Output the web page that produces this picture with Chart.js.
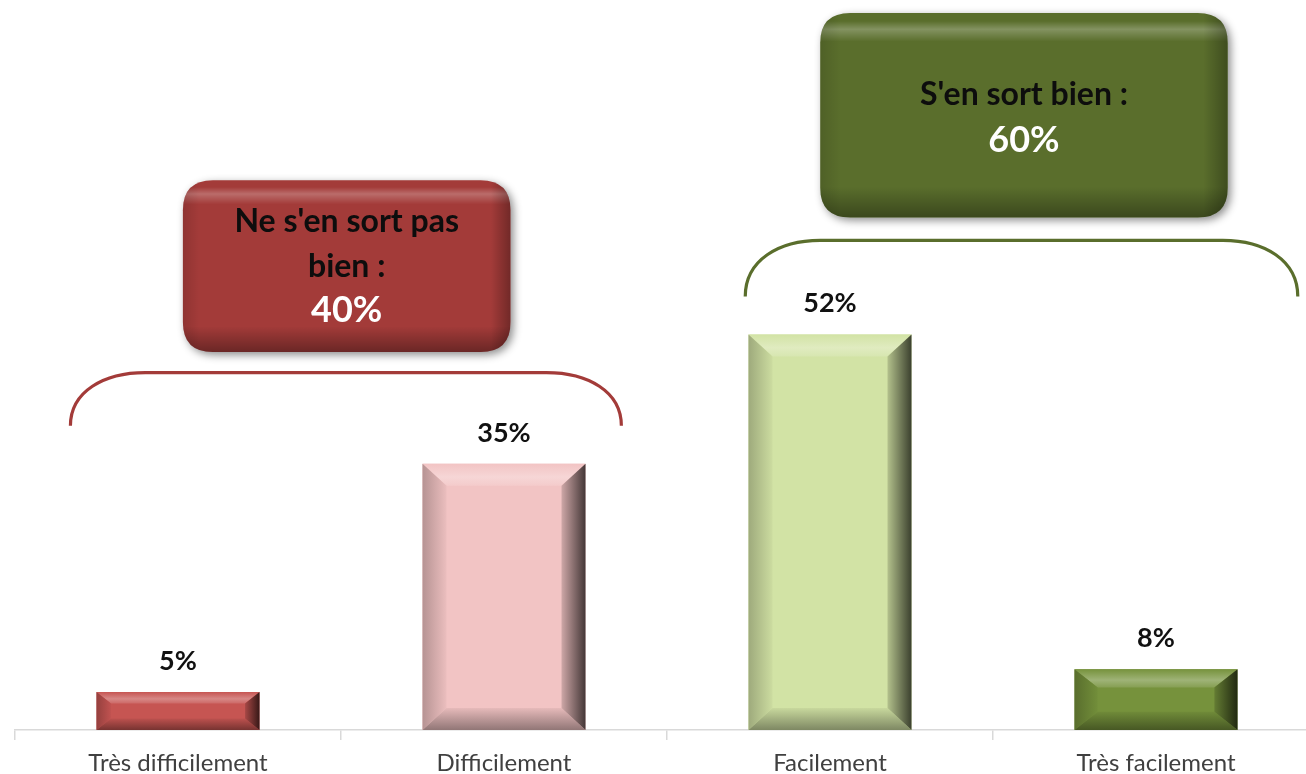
<!DOCTYPE html>
<html><head><meta charset="utf-8">
<script src="https://cdn.jsdelivr.net/npm/chart.js@4/dist/chart.umd.min.js"></script>
<style>
html,body{margin:0;padding:0;background:#fff;overflow:hidden;width:1306px;height:774px;}
canvas{display:block;}
</style></head>
<body>
<canvas id="c" width="1320" height="774" style="width:1320px;height:774px"></canvas>
<script>
const categories = ["Très difficilement", "Difficilement", "Facilement", "Très facilement"];
const values = [5, 35, 52, 8];
const valueLabels = ["5%", "35%", "52%", "8%"];
const barColors = ["#C65552", "#F2C4C4", "#D2E3A5", "#76923C"];

const groupTitles = [["Ne s'en sort pas", "bien :"], ["S'en sort bien :"]];
const groupTotals = ["40%", "60%"];
const groupColors = ["#A33B39", "#5A6E2C"];
const groupFirstCat = [0, 2];
const groupLastCat = [1, 3];

// layout of the decorations (fractions of a category width / y values)
const bracketSpec = [
  {l:-0.33, r:0.36, top:47, end:40},
  {l:-0.26, r:0.435, top:64.4, end:57}
];
const boxSpec = [
  {l:0.015, r:0.02, top:72.3, bottom:49.7, lines:[222,267], total:310},
  {l:-0.03, r:0.22, top:94.3, bottom:67.4, lines:[95], total:140}
];

function shade(hex, amt){
  const n=parseInt(hex.slice(1),16);
  let r=(n>>16)&255,g=(n>>8)&255,b=n&255;
  const f=c=>Math.max(0,Math.min(255,Math.round(amt<0?c*(1+amt):c+(255-c)*amt)));
  return `rgb(${f(r)},${f(g)},${f(b)})`;
}

function roundRect(ctx,x,y,w,h,r){
  ctx.beginPath();
  ctx.moveTo(x+r,y);ctx.lineTo(x+w-r,y);ctx.quadraticCurveTo(x+w,y,x+w,y+r);
  ctx.lineTo(x+w,y+h-r);ctx.quadraticCurveTo(x+w,y+h,x+w-r,y+h);
  ctx.lineTo(x+r,y+h);ctx.quadraticCurveTo(x,y+h,x,y+h-r);
  ctx.lineTo(x,y+r);ctx.quadraticCurveTo(x,y,x+r,y);ctx.closePath();
}

const bevelPlugin = {
  id:'bevel',
  afterDatasetsDraw(chart){
    const ctx=chart.ctx;
    const meta=chart.getDatasetMeta(0);
    meta.data.forEach((bar,i)=>{
      const p=bar.getProps(['x','y','base','width'],true);
      const x0=p.x-p.width/2, x1=p.x+p.width/2, y0=p.y, y1=p.base;
      const h=y1-y0;
      const ix=Math.min(24,h*0.38), iy=Math.min(22,h*0.3);
      const c=barColors[i];
      ctx.save();
      let g=ctx.createLinearGradient(0,y0,0,y0+iy);
      g.addColorStop(0,shade(c,0.0));g.addColorStop(0.6,shade(c,0.3));g.addColorStop(1,shade(c,0.12));
      ctx.fillStyle=g;
      ctx.beginPath();ctx.moveTo(x0,y0);ctx.lineTo(x1,y0);ctx.lineTo(x1-ix,y0+iy);ctx.lineTo(x0+ix,y0+iy);ctx.closePath();ctx.fill();
      g=ctx.createLinearGradient(x0,0,x0+ix,0);
      g.addColorStop(0,shade(c,-0.25));g.addColorStop(1,shade(c,-0.03));
      ctx.fillStyle=g;
      ctx.beginPath();ctx.moveTo(x0,y0);ctx.lineTo(x0+ix,y0+iy);ctx.lineTo(x0+ix,y1-iy);ctx.lineTo(x0,y1);ctx.closePath();ctx.fill();
      g=ctx.createLinearGradient(0,y1-iy,0,y1);
      g.addColorStop(0,shade(c,-0.05));g.addColorStop(1,shade(c,-0.4));
      ctx.fillStyle=g;
      ctx.beginPath();ctx.moveTo(x0,y1);ctx.lineTo(x0+ix,y1-iy);ctx.lineTo(x1-ix,y1-iy);ctx.lineTo(x1,y1);ctx.closePath();ctx.fill();
      g=ctx.createLinearGradient(x1-ix,0,x1,0);
      g.addColorStop(0,shade(c,-0.15));g.addColorStop(1,shade(c,-0.72));
      ctx.fillStyle=g;
      ctx.beginPath();ctx.moveTo(x1,y0);ctx.lineTo(x1-ix,y0+iy);ctx.lineTo(x1-ix,y1-iy);ctx.lineTo(x1,y1);ctx.closePath();ctx.fill();
      ctx.fillStyle='#111111';
      ctx.font='bold 27px Lato, "Open Sans", sans-serif';
      ctx.textAlign='center';ctx.textBaseline='middle';
      ctx.fillText(valueLabels[i],p.x,y0-31);
      ctx.restore();
    });
  }
};

const groupPlugin = {
  id:'groups',
  afterDraw(chart){
    const ctx=chart.ctx, xs=chart.scales.x, ys=chart.scales.y;
    const cw=xs.getPixelForValue(1)-xs.getPixelForValue(0);
    groupTitles.forEach((title,gi)=>{
      const xa=xs.getPixelForValue(groupFirstCat[gi]), xb=xs.getPixelForValue(groupLastCat[gi]);
      const b=bracketSpec[gi];
      const bl=xa+b.l*cw, br=xb+b.r*cw, bt=ys.getPixelForValue(b.top), be=ys.getPixelForValue(b.end);
      const rx=75, ry=be-bt;
      ctx.save();
      ctx.strokeStyle=groupColors[gi];ctx.lineWidth=3.2;ctx.lineCap='butt';
      ctx.beginPath();
      ctx.moveTo(bl,be);
      ctx.bezierCurveTo(bl,bt+ry*0.35,bl+rx*0.45,bt,bl+rx,bt);
      ctx.lineTo(br-rx,bt);
      ctx.bezierCurveTo(br-rx*0.45,bt,br,bt+ry*0.35,br,be);
      ctx.stroke();
      ctx.restore();
      const s=boxSpec[gi];
      const bx0=xa+s.l*cw, bx1=xb+s.r*cw;
      const by0=ys.getPixelForValue(s.top), by1=ys.getPixelForValue(s.bottom);
      const w=bx1-bx0,h=by1-by0,r=30;
      const col=groupColors[gi];
      ctx.save();
      ctx.shadowColor='rgba(0,0,0,0.45)';ctx.shadowBlur=8;ctx.shadowOffsetX=3;ctx.shadowOffsetY=3;
      roundRect(ctx,bx0,by0,w,h,r);ctx.fillStyle=col;ctx.fill();
      ctx.restore();
      ctx.save();
      roundRect(ctx,bx0,by0,w,h,r);ctx.clip();
      let g=ctx.createLinearGradient(0,by0,0,by1);
      g.addColorStop(0,'rgba(255,255,255,0.0)');g.addColorStop(0.04,'rgba(255,255,255,0.0)');
      g.addColorStop(0.08,'rgba(255,255,255,0.25)');g.addColorStop(0.14,'rgba(255,255,255,0.0)');
      g.addColorStop(0.85,'rgba(0,0,0,0)');g.addColorStop(1,'rgba(0,0,0,0.35)');
      ctx.fillStyle=g;ctx.fillRect(bx0,by0,w,h);
      g=ctx.createLinearGradient(bx0,0,bx1,0);
      g.addColorStop(0,'rgba(0,0,0,0.12)');g.addColorStop(0.05,'rgba(0,0,0,0)');
      g.addColorStop(0.94,'rgba(0,0,0,0)');g.addColorStop(1,'rgba(0,0,0,0.3)');
      ctx.fillStyle=g;ctx.fillRect(bx0,by0,w,h);
      ctx.restore();
      ctx.save();
      ctx.textAlign='center';ctx.textBaseline='middle';
      const cx=(bx0+bx1)/2;
      ctx.font='bold 32px Lato, "Open Sans", sans-serif';
      ctx.fillStyle='#0d0d0d';
      title.forEach((t,k)=>ctx.fillText(t,cx,s.lines[k]));
      ctx.font='bold 36px Lato, "Open Sans", sans-serif';
      ctx.fillStyle='#ffffff';
      ctx.fillText(groupTotals[gi],cx,s.total);
      ctx.restore();
    });
  }
};

new Chart(document.getElementById('c'),{
  type:'bar',
  data:{labels:categories,datasets:[{data:values,backgroundColor:barColors,borderWidth:0,
    barPercentage:0.5,categoryPercentage:1}]},
  options:{
    responsive:false,animation:false,
    layout:{padding:{left:15,right:1,top:0,bottom:0}},
    plugins:{legend:{display:false},tooltip:{enabled:false}},
    scales:{
      x:{
        grid:{display:true,offset:true,drawOnChartArea:false,drawTicks:true,tickLength:10,color:'#d9d9d9',lineWidth:1.5},
        border:{display:true,color:'#d9d9d9',width:1.5},
        ticks:{color:'#404040',font:{family:'Lato, "Open Sans", sans-serif',size:24},padding:9},
        afterFit(s){s.height=44;}
      },
      y:{display:false,min:0,max:96}
    }
  },
  plugins:[bevelPlugin,groupPlugin]
});
</script>
</body></html>
